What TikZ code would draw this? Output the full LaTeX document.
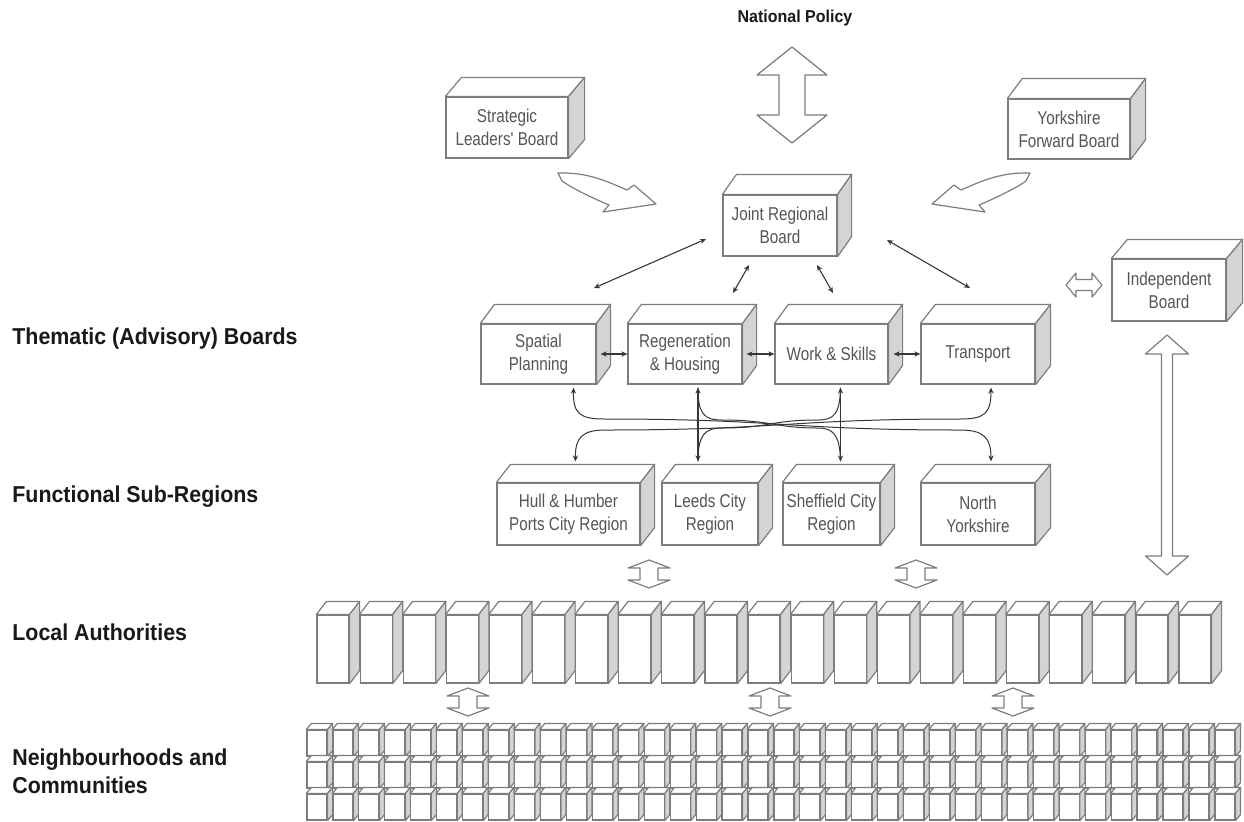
\documentclass[tikz,border=0pt]{standalone}
\usepackage{fontspec}
\setmainfont{Liberation Sans}
\newfontfamily\narrowfont[FakeStretch=0.82]{Liberation Sans}
\newfontfamily\labelfont[FakeStretch=0.93]{Liberation Sans}
\usetikzlibrary{calc,arrows.meta}
\definecolor{edge}{RGB}{125,125,125}
\definecolor{sidegray}{RGB}{212,212,212}
\definecolor{boxtext}{RGB}{85,85,85}
\definecolor{conncol}{RGB}{55,55,55}
\definecolor{labeltext}{RGB}{25,25,25}
\tikzset{
  face/.style={draw=edge, fill=white, line width=0.6pt, inner sep=0pt, align=center,
    font=\narrowfont\fontsize{9.3}{11.5}\selectfont, text=boxtext},
  face top/.style={draw=edge, fill=white, line width=0.6pt, line join=round},
  face side/.style={draw=edge, fill=sidegray, line width=0.6pt, line join=round},
  blockarrow/.style={draw=edge, fill=white, line width=0.6pt, line join=round},
  tip/.tip={Stealth[length=3pt,width=2.6pt]},
  conn/.style={draw=conncol, line width=0.55pt, tip-tip},
  curveline/.style={draw=conncol, line width=0.5pt},
  sidelabel/.style={anchor=west, inner sep=0pt, align=left,
    font=\labelfont\bfseries\fontsize{11.5}{14}\selectfont, text=labeltext},
}
% name, cx, cy, width px, height px, dx, dy, text
\newcommand\cuboid[8]{%
  \node[face, minimum width=#4*0.5pt, minimum height=#5*0.5pt] (#1) at (#2,#3) {#8};
  \filldraw[face top] (#1.north west) -- ++(#6,#7) -- ($(#1.north east)+(#6,#7)$) -- (#1.north east) -- cycle;
  \filldraw[face side] (#1.north east) -- ++(#6,#7) -- ($(#1.south east)+(#6,#7)$) -- (#1.south east) -- cycle;
}
% vertical double block arrow: cx, cy, half height, head length, head half width, shaft half width
\newcommand\dblarrow[6]{%
  \filldraw[blockarrow, shift={(#1,#2)}] (0,-#3) -- (#5,-#3+#4) -- (#6,-#3+#4) -- (#6,#3-#4)
    -- (#5,#3-#4) -- (0,#3) -- (-#5,#3-#4) -- (-#6,#3-#4) -- (-#6,-#3+#4) -- (-#5,-#3+#4) -- cycle;
}
\begin{document}
\begin{tikzpicture}[x=0.5pt,y=-0.5pt]
\fill[white] (0,0) rectangle (1244,821);
\useasboundingbox (0,0) rectangle (1244,821);

% top
\node[font=\labelfont\bfseries\fontsize{8.6}{10}\selectfont, text=labeltext] (np) at (795,18) {National Policy};
\dblarrow{792}{95}{48}{28}{35}{13}

\cuboid{slb}{507}{127.5}{122}{61}{16}{-19}{Strategic\\Leaders' Board}
\cuboid{yfb}{1069}{129}{122}{60}{15}{-20}{Yorkshire\\Forward Board}

% curved block arrows
\filldraw[blockarrow] (558,173) .. controls (590,172) and (610,183) .. (627,190) -- (634,185) -- (656,204)
  -- (603,212) -- (609,205) .. controls (595,199) and (575,190) .. (562,181) -- cycle;
\begin{scope}[shift={(1588,0)}, xscale=-1]
\filldraw[blockarrow] (558,173) .. controls (590,172) and (610,183) .. (627,190) -- (634,185) -- (656,204)
  -- (603,212) -- (609,205) .. controls (595,199) and (575,190) .. (562,181) -- cycle;
\end{scope}

\cuboid{jrb}{780}{225.5}{114}{61}{14}{-20}{Joint Regional\\Board}

% thematic boards
\cuboid{sp}{538.5}{354}{115}{60}{14}{-19}{Spatial\\Planning}
\cuboid{rh}{685}{354}{114}{60}{14}{-19}{Regeneration\\\& Housing}
\cuboid{ws}{831.5}{354}{113}{60}{14}{-19}{Work \& Skills}
\cuboid{tr}{978}{354}{114}{60}{15}{-19}{Transport}

% JRB connectors
\coordinate (j1) at (706,239); \coordinate (s1) at (594,288);
\coordinate (j2) at (749,265); \coordinate (s2) at (733,293);
\coordinate (j3) at (817,265); \coordinate (s3) at (833,293);
\coordinate (j4) at (887,240); \coordinate (s4) at (970,288);
\draw[conn] (j1) -- (s1);
\draw[conn] (j2) -- (s2);
\draw[conn] (j3) -- (s3);
\draw[conn] (j4) -- (s4);

% thematic horizontal connectors
\draw[conn] ($(sp.east)+(4,0)$) -- (rh.west);
\draw[conn] ($(rh.east)+(4,0)$) -- (ws.west);
\draw[conn] ($(ws.east)+(5,0)$) -- (tr.west);

% sub-regions
\cuboid{hh}{568.5}{514}{143}{62}{14}{-18}{Hull \& Humber\\Ports City Region}
\cuboid{lc}{710}{514}{96}{62}{14}{-18}{Leeds City\\Region}
\cuboid{sc}{831.5}{514}{97}{62}{14}{-18}{Sheffield City\\Region}
\cuboid{ny}{978}{514}{114}{62}{15}{-18}{North\\Yorkshire}

% braided connectors
\coordinate (t1) at ($(sp.south)+(35,3)$);
\coordinate (t2) at ($(rh.south)+(13,3)$);
\coordinate (t3) at ($(ws.south)+(9,3)$);
\coordinate (t4) at ($(tr.south)+(13,3)$);
\coordinate (b1) at ($(hh.north)+(7,-21)$);
\coordinate (b2) at ($(lc.north)+(-12,-21)$);
\coordinate (b3) at ($(sc.north)+(9,-21)$);
\coordinate (b4) at ($(ny.north)+(13,-21)$);
\draw[curveline, tip-tip] (t1) .. controls (573,414) and (580,419) .. (605,419)
  .. controls (780,419) and (790,430) .. (960,430) .. controls (984,430) and (991,438) .. (b4);
\draw[curveline, tip-tip] (t4) .. controls (991,414) and (984,419) .. (960,419)
  .. controls (790,419) and (780,430) .. (605,430) .. controls (582,430) and (575,438) .. (b1);
\draw[curveline] (t2) .. controls (698,414) and (704,420) .. (722,420)
  .. controls (770,420) and (775,428) .. (818,428) .. controls (834,428) and (840,436) .. (b3);
\draw[curveline] (t3) .. controls (840,414) and (834,420) .. (818,420)
  .. controls (770,420) and (770,428) .. (722,428) .. controls (704,428) and (698,436) .. (b2);
\draw[conn] (t2) -- (b2);
\draw[conn] (t3) -- (b3);

% independent board
\cuboid{ib}{1169}{290}{114}{62}{16}{-19}{Independent\\Board}
\filldraw[blockarrow, shift={(1084,285)}] (-18,0) -- (-8,-12) -- (-8,-5.5) -- (8,-5.5) -- (8,-12) -- (18,0)
  -- (8,12) -- (8,5.5) -- (-8,5.5) -- (-8,12) -- cycle;
\dblarrow{1167}{455}{120}{19}{21.5}{5.5}

% small block arrows
\dblarrow{649}{574}{14}{8}{21}{9}
\dblarrow{916}{574}{14}{8}{21}{9}
\dblarrow{468}{702}{14}{8}{21}{9}
\dblarrow{770}{702}{14}{8}{21}{9}
\dblarrow{1013}{702}{14}{8}{21}{9}

% local authorities
\foreach \i in {0,...,20} {
  \pgfmathsetmacro\cx{317+43.1*\i+16}
  \cuboid{la\i}{\cx}{649}{32}{68}{10}{-13}{}
}

% neighbourhoods
\foreach \r in {0,1,2} {
  \foreach \c in {0,...,35} {
    \pgfmathsetmacro\cx{307+25.94*\c+10}
    \pgfmathsetmacro\cy{730+32*\r+13}
    \cuboid{nb\r-\c}{\cx}{\cy}{20}{26}{5}{-6}{}
  }
}

% side labels
\node[sidelabel] (l1) at (12,339) {Thematic (Advisory) Boards};
\node[sidelabel] (l2) at (12,497) {Functional Sub-Regions};
\node[sidelabel] (l3) at (12,632) {Local Authorities};
\node[sidelabel] (l4) at (12,771) {Neighbourhoods and\\Communities};
\end{tikzpicture}
\end{document}
